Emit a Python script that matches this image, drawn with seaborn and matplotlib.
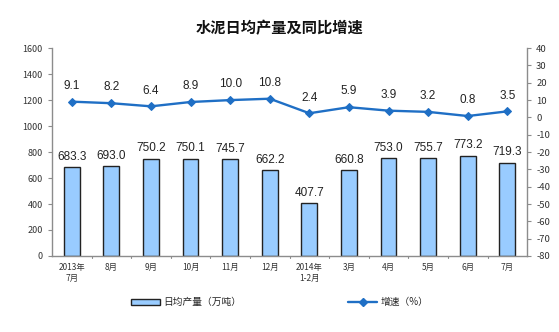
import matplotlib
matplotlib.use("Agg")
import matplotlib.pyplot as plt
import seaborn as sns
import pandas as pd
from matplotlib.patches import Patch
from matplotlib.lines import Line2D

months = ["2013年\n7月", "8月", "9月", "10月", "11月", "12月",
          "2014年\n1-2月", "3月", "4月", "5月", "6月", "7月"]
daily_output = [683.3, 693.0, 750.2, 750.1, 745.7, 662.2,
                407.7, 660.8, 753.0, 755.7, 773.2, 719.3]
growth_rate = [9.1, 8.2, 6.4, 8.9, 10.0, 10.8, 2.4, 5.9, 3.9, 3.2, 0.8, 3.5]

df = pd.DataFrame({"month": months, "output": daily_output, "growth": growth_rate})

sns.set_style("white")
plt.rcParams["font.family"] = ["Noto Sans CJK SC", "DejaVu Sans"]
plt.rcParams["axes.unicode_minus"] = False

bar_color = "#99CCFF"
line_color = "#1F6FC5"
axis_color = "#8C8C8C"

fig = plt.figure(figsize=(5.59, 3.32), dpi=100)
ax = fig.add_axes([0.093, 0.229, 0.850, 0.626])

sns.barplot(data=df, x="month", y="output", color=bar_color, width=0.4,
            edgecolor="#222222", linewidth=1.0, saturation=1, ax=ax)
ax.set_ylim(0, 1600)
ax.set_yticks(range(0, 1601, 200))
ax.set_xlim(-0.5, len(months) - 0.5)
ax.set_xlabel("")
ax.set_ylabel("")

for i, v in enumerate(daily_output):
    ax.annotate(f"{v:.1f}", (i, v), xytext=(0, 3), textcoords="offset points",
                ha="center", va="bottom", fontsize=8.5, family="Liberation Sans",
                color="#222222")

ax2 = ax.twinx()
sns.lineplot(x=list(range(len(months))), y=growth_rate, color=line_color,
             marker="D", markersize=4.5, markeredgecolor=line_color,
             linewidth=1.7, ax=ax2)
ax2.set_ylim(-80, 40)
ax2.set_yticks(range(-80, 41, 10))
ax2.set_xlim(-0.5, len(months) - 0.5)

for i, v in enumerate(growth_rate):
    ax2.annotate(f"{v:.1f}", (i, v), xytext=(0, 7), textcoords="offset points",
                 ha="center", va="bottom", fontsize=8.5, family="Liberation Sans",
                 color="#222222")

# Category tick marks sit between the bars
ax.set_xticks(range(len(months)))
ax.set_xticklabels(months, fontsize=6, color="#333333", linespacing=1.3)
ax.tick_params(axis="x", length=0, pad=5)
for b in [i + 0.5 for i in range(len(months) - 1)]:
    ax.plot([b, b], [0, -1600 * 0.012], color=axis_color, lw=0.8,
            clip_on=False, transform=ax.transData)

ax.tick_params(axis="y", labelsize=6.5, colors="#333333", length=3,
               color=axis_color, direction="out", left=True)
ax2.tick_params(axis="y", labelsize=6.8, colors="#333333", length=3,
                color=axis_color, direction="out", right=True)

for a in (ax, ax2):
    a.spines["top"].set_visible(False)
    for s in ("left", "right", "bottom"):
        a.spines[s].set_color(axis_color)
        a.spines[s].set_linewidth(1.0)
ax.spines["right"].set_visible(False)
ax2.spines["left"].set_visible(False)
ax2.spines["bottom"].set_visible(False)

fig.text(0.5, 0.915, "水泥日均产量及同比增速", ha="center", va="center",
         fontsize=11, fontweight="bold", color="#111111")

handles = [Patch(facecolor=bar_color, edgecolor="#222222", linewidth=1.0),
           Line2D([], [], color=line_color, marker="D", markersize=4, lw=1.7)]
labels = ["日均产量（万吨）", "增速（%）"]
fig.legend(handles, labels, loc="center", bbox_to_anchor=(0.5, 0.09), ncol=2,
           frameon=False, fontsize=7, columnspacing=11, handlelength=3,
           handleheight=0.6, handletextpad=0.3)

fig.savefig("out.png", dpi=100)
